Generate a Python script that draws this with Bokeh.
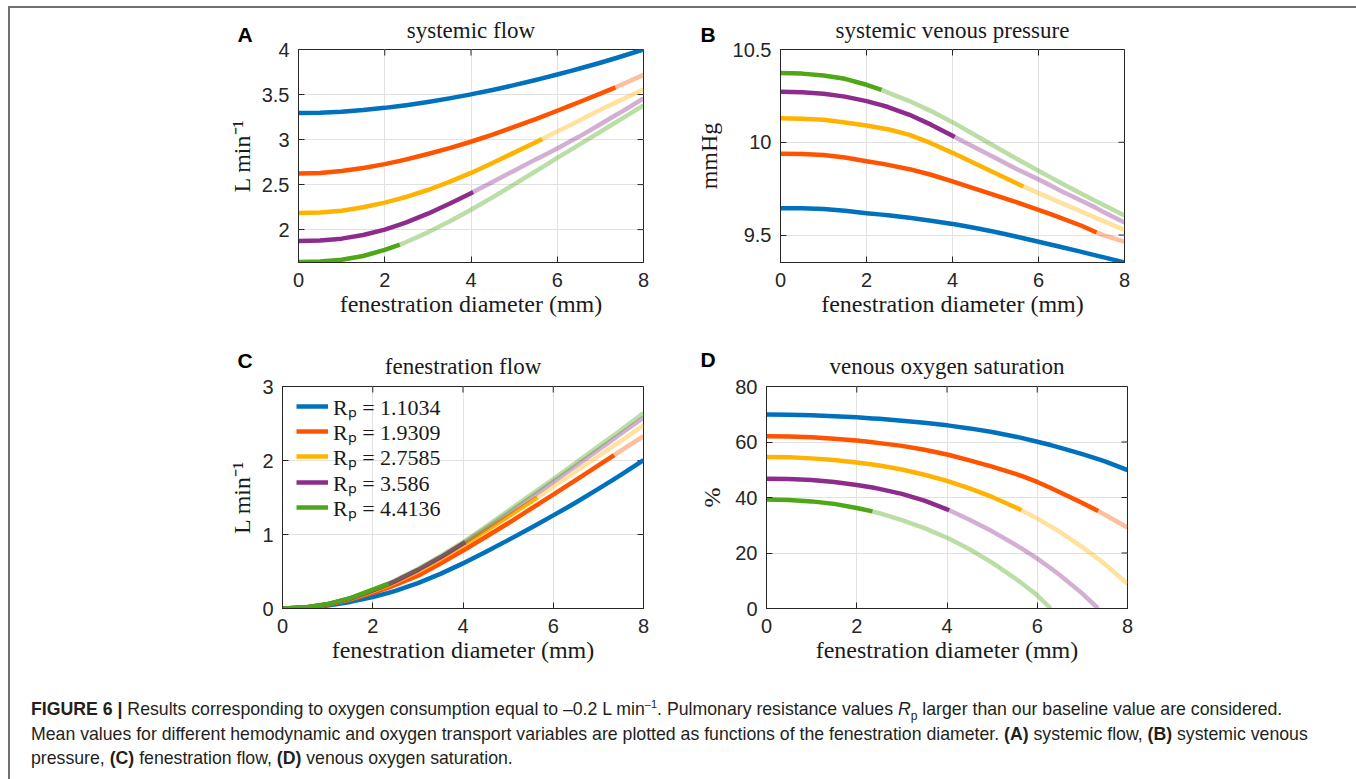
import numpy as np
from bokeh.plotting import figure
from bokeh.models import Range1d, FixedTicker, Legend, LegendItem, Div, Title, Spacer
from bokeh.layouts import row, column
from bokeh.embed import file_html
from bokeh.resources import INLINE

# ---------------- data ----------------
X = [0, 0.5, 1, 1.5, 2, 2.35, 2.5, 3, 3.5, 4, 4.05, 4.5, 5, 5.5, 5.65, 6, 6.3, 6.5, 7, 7.35, 7.5, 8]

RP_LABELS = ["Rₚ = 1.1034", "Rₚ = 1.9309", "Rₚ = 2.7585", "Rₚ = 3.586", "Rₚ = 4.4136"]
COLORS = ["#0072BD", "#FF5300", "#FFB300", "#8E2C8E", "#4DA716"]
# diameter beyond which each curve is drawn faded
CUTOFF = [8.0, 7.35, 5.65, 4.05, 2.35]

# A: systemic flow (L/min)
SYS_FLOW_1 = [3.295, 3.299, 3.31, 3.328, 3.352, 3.373, 3.382, 3.417, 3.457, 3.502, 3.507, 3.551, 3.604, 3.661, 3.679, 3.722, 3.76, 3.786, 3.853, 3.903, 3.925, 4.0]
SYS_FLOW_2 = [2.623, 2.630, 2.652, 2.685, 2.727, 2.763, 2.780, 2.84, 2.905, 2.976, 2.984, 3.056, 3.14, 3.228, 3.255, 3.32, 3.376, 3.414, 3.51, 3.58, 3.612, 3.718]
SYS_FLOW_3 = [2.185, 2.19, 2.21, 2.248, 2.30, 2.344, 2.364, 2.44, 2.53, 2.63, 2.64, 2.74, 2.855, 2.97, 3.005, 3.09, 3.16, 3.21, 3.33, 3.41, 3.445, 3.555]
SYS_FLOW_4 = [1.874, 1.88, 1.90, 1.94, 2.00, 2.055, 2.08, 2.177, 2.288, 2.405, 2.417, 2.53, 2.655, 2.78, 2.815, 2.90, 2.98, 3.03, 3.17, 3.27, 3.31, 3.458]
SYS_FLOW_5 = [1.64, 1.645, 1.665, 1.707, 1.775, 1.834, 1.862, 1.97, 2.09, 2.22, 2.234, 2.358, 2.502, 2.648, 2.692, 2.796, 2.883, 2.941, 3.087, 3.189, 3.232, 3.378]

# B: systemic venous pressure (mmHg)
SVP_1 = [9.645, 9.644, 9.640, 9.631, 9.618, 9.610, 9.607, 9.593, 9.577, 9.560, 9.558, 9.539, 9.516, 9.491, 9.483, 9.464, 9.448, 9.437, 9.409, 9.389, 9.381, 9.352]
SVP_2 = [9.938, 9.937, 9.931, 9.918, 9.898, 9.885, 9.878, 9.855, 9.825, 9.789, 9.785, 9.751, 9.714, 9.676, 9.664, 9.636, 9.611, 9.594, 9.55, 9.514, 9.50, 9.464]
SVP_3 = [10.129, 10.127, 10.121, 10.107, 10.09, 10.076, 10.07, 10.04, 9.995, 9.943, 9.938, 9.888, 9.833, 9.778, 9.762, 9.726, 9.696, 9.676, 9.626, 9.591, 9.576, 9.527]
SVP_4 = [10.272, 10.27, 10.262, 10.246, 10.222, 10.2, 10.19, 10.148, 10.095, 10.035, 10.028, 9.975, 9.915, 9.855, 9.838, 9.80, 9.765, 9.74, 9.685, 9.645, 9.625, 9.567]
SVP_5 = [10.373, 10.37, 10.36, 10.342, 10.31, 10.282, 10.268, 10.222, 10.168, 10.108, 10.102, 10.042, 9.976, 9.91, 9.891, 9.847, 9.808, 9.783, 9.722, 9.681, 9.663, 9.605]

# C: fenestration flow (L/min)
FEN_FLOW_1 = [0, 0.01, 0.04, 0.089, 0.155, 0.212, 0.238, 0.343, 0.468, 0.61, 0.625, 0.764, 0.924, 1.089, 1.139, 1.258, 1.362, 1.433, 1.616, 1.749, 1.806, 2.005]
FEN_FLOW_2 = [0, 0.012, 0.05, 0.12, 0.212, 0.283, 0.318, 0.443, 0.608, 0.783, 0.801, 0.966, 1.152, 1.345, 1.403, 1.54, 1.657, 1.735, 1.933, 2.073, 2.134, 2.33]
FEN_FLOW_3 = [0, 0.013, 0.055, 0.13, 0.235, 0.315, 0.355, 0.50, 0.67, 0.855, 0.874, 1.047, 1.242, 1.442, 1.503, 1.646, 1.769, 1.852, 2.058, 2.203, 2.266, 2.475]
FEN_FLOW_4 = [0, 0.013, 0.057, 0.135, 0.245, 0.33, 0.37, 0.522, 0.692, 0.88, 0.899, 1.08, 1.287, 1.498, 1.562, 1.712, 1.841, 1.927, 2.144, 2.296, 2.361, 2.579]
FEN_FLOW_5 = [0, 0.014, 0.06, 0.14, 0.255, 0.337, 0.38, 0.535, 0.71, 0.895, 0.915, 1.105, 1.32, 1.535, 1.60, 1.75, 1.88, 1.97, 2.19, 2.345, 2.41, 2.64]

# D: venous oxygen saturation (%)
SVO2_1 = [69.9, 69.8, 69.6, 69.3, 68.9, 68.5, 68.35, 67.7, 66.9, 66.0, 65.9, 64.9, 63.6, 62.0, 61.5, 60.1, 58.9, 58.0, 55.6, 53.8, 53.0, 49.9]
SVO2_2 = [62.1, 62.0, 61.7, 61.2, 60.5, 59.9, 59.6, 58.6, 57.2, 55.5, 55.3, 53.4, 51.1, 48.6, 47.8, 45.6, 43.4, 41.9, 38.0, 35.1, 33.8, 29.2]
SVO2_3 = [54.6, 54.5, 54.1, 53.5, 52.6, 51.9, 51.5, 50.1, 48.2, 46.0, 45.75, 43.3, 40.2, 36.6, 35.4, 32.4, 29.6, 27.6, 22.1, 17.9, 16.0, 8.9]
SVO2_4 = [46.8, 46.7, 46.3, 45.6, 44.5, 43.6, 43.1, 41.3, 38.9, 35.75, 35.4, 32.0, 27.8, 23.15, 21.66, 17.95, 14.5, 12.06, 5.36, 0.0, None, None]
SVO2_5 = [39.3, 39.1, 38.6, 37.7, 36.2, 35.0, 34.34, 31.86, 28.96, 25.49, 25.11, 21.37, 16.52, 10.97, 9.17, 4.76, 0.0, None, None, None, None, None]

X_TICKS = [0, 2, 4, 6, 8]
A_TICKS = [2, 2.5, 3, 3.5, 4]
B_TICKS = [9.5, 10, 10.5]
C_TICKS = [0, 1, 2, 3]
D_TICKS = [0, 20, 40, 60, 80]

AX = "#262626"
TXT = "#1a1a1a"
SERIF = "Liberation Serif"
SANS = "Liberation Sans"
TICK_LEN = 6


def panel(title, letter, ylabel, series, yr, yticks, fw, fh, bl, br, bt, bb,
          letter_off, ylab_standoff, letter_first, st_first, st_second, with_legend=False):
    p = figure(frame_width=fw, frame_height=fh,
               min_border_left=bl, min_border_right=br,
               min_border_top=bt, min_border_bottom=bb,
               x_range=Range1d(0, 8), y_range=Range1d(*yr),
               output_backend="svg", toolbar_location=None)
    if p.title is not None:
        p.title.visible = False
    p.outline_line_color = AX
    p.outline_line_width = 1
    p.background_fill_color = "white"
    p.border_fill_color = "white"

    p.xaxis.ticker = FixedTicker(ticks=X_TICKS)
    p.yaxis.ticker = FixedTicker(ticks=yticks)
    p.xgrid.ticker = FixedTicker(ticks=X_TICKS)
    p.ygrid.ticker = FixedTicker(ticks=yticks)
    p.grid.grid_line_color = "#E2E2E2"
    p.grid.grid_line_width = 1

    for ax in (p.xaxis[0], p.yaxis[0]):
        ax.major_tick_in = TICK_LEN
        ax.major_tick_out = 0
        ax.minor_tick_in = 0
        ax.minor_tick_out = 0
        ax.axis_line_color = AX
        ax.major_tick_line_color = AX
        ax.major_label_text_font = SANS
        ax.major_label_text_font_size = "20px"
        ax.major_label_text_color = AX
        ax.axis_label_text_font = SERIF
        ax.axis_label_text_font_size = "24px"
        ax.axis_label_text_font_style = "normal"
        ax.axis_label_text_color = TXT
    p.xaxis.major_label_standoff = 10
    p.yaxis.major_label_standoff = 9
    p.xaxis.axis_label = "fenestration diameter (mm)"
    p.xaxis.axis_label_standoff = 1
    p.yaxis.axis_label = ylabel
    p.yaxis.axis_label_standoff = ylab_standoff

    # MATLAB-style box ticks on the top and right edges (pointing inwards)
    ymin, ymax = yr
    dy = TICK_LEN * (ymax - ymin) / fh
    dx = TICK_LEN * 8.0 / fw
    p.segment(x0=X_TICKS, y0=[ymax] * len(X_TICKS), x1=X_TICKS, y1=[ymax - dy] * len(X_TICKS),
              line_color=AX, line_width=1)
    p.segment(x0=[8.0] * len(yticks), y0=yticks, x1=[8.0 - dx] * len(yticks), y1=yticks,
              line_color=AX, line_width=1)

    t_main = Title(text=title, text_font=SERIF, text_font_size="23px", text_font_style="normal",
                   text_color=TXT, align="center")
    t_letter = Title(text=letter, text_font=SANS, text_font_size="21px", text_font_style="bold",
                     text_color="black", align="left", offset=letter_off)
    if letter_first:
        t_letter.standoff = st_first
        t_main.standoff = st_second
        p.add_layout(t_letter, "above")
        p.add_layout(t_main, "above")
    else:
        t_main.standoff = st_first
        t_letter.standoff = st_second
        p.add_layout(t_main, "above")
        p.add_layout(t_letter, "above")

    xs = np.array(X, dtype=float)
    dark = []
    for vals, col, cut in zip(series, COLORS, CUTOFF):
        ys = np.array([np.nan if v is None else v for v in vals], dtype=float)
        dk = xs <= cut + 1e-9
        r = p.line(xs[dk], ys[dk], line_color=col, line_width=4.5, line_join="round")
        lt = xs >= cut - 1e-9
        if lt.sum() > 1:
            p.line(xs[lt], ys[lt], line_color=col, line_width=4.5, line_alpha=0.38, line_join="round")
        dark.append(r)

    if with_legend:
        for i, (lab, r) in enumerate(zip(RP_LABELS, dark)):
            cy = 19.5 + 25.4 * i
            lg = Legend(items=[LegendItem(label=lab, renderers=[r])],
                        location=(14, fh - cy - 15), border_line_color=None,
                        background_fill_alpha=0, label_text_font=SERIF,
                        label_text_font_size="22px", label_text_color=TXT,
                        glyph_width=32, glyph_height=30, label_height=30, spacing=0,
                        padding=0, margin=0, label_standoff=5)
            p.add_layout(lg)
    return p


pA = panel("systemic flow", "A", "L min⁻¹",
           [SYS_FLOW_1, SYS_FLOW_2, SYS_FLOW_3, SYS_FLOW_4, SYS_FLOW_5],
           (1.635, 4.0), A_TICKS, 345, 213, 288, 10, 41, 68, -61, 4, True, 6.5, -50)
pB = panel("systemic venous pressure", "B", "mmHg",
           [SVP_1, SVP_2, SVP_3, SVP_4, SVP_5],
           (9.352, 10.5), B_TICKS, 344, 213, 127, 228, 41, 68, -80, 8, True, 6.5, -50)
pC = panel("fenestration flow", "C", "L min⁻¹",
           [FEN_FLOW_1, FEN_FLOW_2, FEN_FLOW_3, FEN_FLOW_4, FEN_FLOW_5],
           (0, 3), C_TICKS, 361, 222, 272, 10, 56, 66, -45, 4, False, 16, -56.5, with_legend=True)
pD = panel("venous oxygen saturation", "D", "%",
           [SVO2_1, SVO2_2, SVO2_3, SVO2_4, SVO2_5],
           (0, 80), D_TICKS, 361, 222, 113, 225, 56, 66, -66, 7, False, 15, -53)

SUP = '<sup style="font-size:11px;line-height:0">'
SUB = '<sub style="font-size:12px;line-height:0">'
caption_html = (
    '<div style="font-family:\'Liberation Sans\';font-size:17.7px;line-height:24.5px;'
    'color:#231f20;white-space:nowrap;padding-left:16px;padding-top:18px;">'
    '<b>FIGURE 6 |</b> Results corresponding to oxygen consumption equal to &ndash;0.2 L min'
    + SUP + '&ndash;1</sup>. Pulmonary resistance values <i>R</i>' + SUB + 'p</sub> larger than our baseline value are considered.<br>'
    'Mean values for different hemodynamic and oxygen transport variables are plotted as functions of the fenestration diameter. '
    '<b>(A)</b> systemic flow, <b>(B)</b> systemic venous<br>'
    'pressure, <b>(C)</b> fenestration flow, <b>(D)</b> venous oxygen saturation.'
    '</div>'
)
cap = Div(text=caption_html, width=1342, height=97)

inner = column(row(pA, pB), row(pC, pD), cap,
               styles={"border-top": "2px solid #707070", "border-left": "2px solid #707070",
                       "border-right": "2px solid #707070"})
layout = column(Spacer(height=6), row(Spacer(width=8), inner))

open("out.html", "w").write(file_html(layout, INLINE))
